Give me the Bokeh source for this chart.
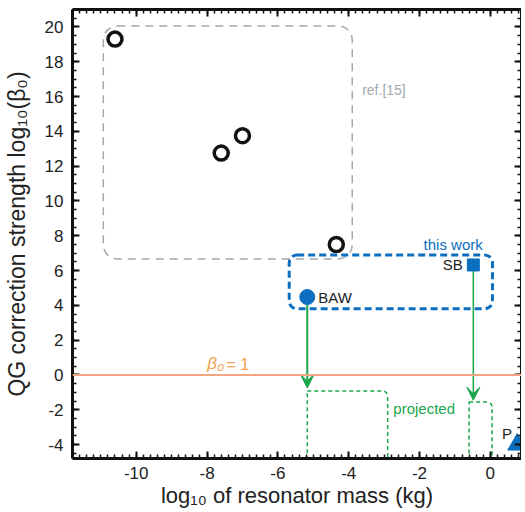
from bokeh.plotting import figure
from bokeh.models import (LinearAxis, Range1d, SingleIntervalTicker, Arrow, VeeHead,
                          Label, Span, CustomJSTickFormatter)
from bokeh.embed import file_html
from bokeh.resources import INLINE

# ---------------- data ----------------
ref_x = [-10.6, -7.6, -7.0, -4.35]
ref_y = [19.3, 12.75, 13.75, 7.5]
baw_x = [-5.17]
baw_y = [4.48]
sb_x = [-0.48]
sb_y = [6.32]
p_x = [0.76]
p_y = [-4.0]
baw_proj_y = -0.75
sb_proj_y = -1.45
ref_box = [-10.93, -3.9, 6.67, 20.05]     # left, right, bottom, top
work_box = [-5.68, 0.06, 3.8, 6.9]
proj_left = [-5.17, -0.6]
proj_right = [-2.9, 0.05]
proj_top = [-0.92, -1.55]
proj_bottom = [-6.0, -6.0]
beta_line = 0.0
x_lim = (-11.8, 0.88)
y_lim = (-4.8, 21.0)

FONT = "Liberation Sans"
BLUE = "#0b6ebf"
GREEN = "#1aa64a"
GRAY = "#a3a8ad"
ORANGE = "#f0a583"
DARK = "#222222"

p = figure(frame_width=449, frame_height=449, output_backend="svg", toolbar_location=None,
           x_range=Range1d(*x_lim), y_range=Range1d(*y_lim),
           min_border_left=65, min_border_top=9, min_border_right=0, min_border_bottom=0)
p.grid.visible = False
p.outline_line_color = None
p.background_fill_color = "white"
p.border_fill_color = "white"

xt = SingleIntervalTicker(interval=2, num_minor_ticks=10)
yt = SingleIntervalTicker(interval=2, num_minor_ticks=4)
hyphen_fmt = "return String(Math.round(tick));"

def style_axis(ax):
    ax.axis_line_width = 3
    ax.axis_line_color = "#111111"
    ax.major_tick_in = 7
    ax.major_tick_out = 0
    ax.minor_tick_in = 4
    ax.minor_tick_out = 0
    ax.major_tick_line_width = 2
    ax.minor_tick_line_width = 1.5
    ax.major_tick_line_color = "#111111"
    ax.minor_tick_line_color = "#111111"
    ax.major_label_text_font = FONT
    ax.major_label_text_font_size = "17px"
    ax.major_label_text_color = DARK
    ax.axis_label_text_font = FONT
    ax.axis_label_text_font_size = "23px"
    ax.axis_label_text_font_style = "normal"
    ax.axis_label_text_color = DARK

p.xaxis.ticker = xt
p.yaxis.ticker = yt
p.xaxis.formatter = CustomJSTickFormatter(code=hyphen_fmt)
p.yaxis.formatter = CustomJSTickFormatter(code=hyphen_fmt)
style_axis(p.xaxis[0])
style_axis(p.yaxis[0])
p.xaxis.axis_label = "log\u2081\u2080 of resonator mass (kg)"
p.yaxis.axis_label = "QG correction strength log\u2081\u2080(\u03b2\u2080)"
p.xaxis.axis_label_text_font_size = "22px"
p.xaxis.major_label_standoff = 8
p.xaxis.axis_label_standoff = 1
p.yaxis.major_label_standoff = 9
p.yaxis.axis_label_standoff = 12

for loc, tk in (("above", xt), ("right", yt)):
    ax = LinearAxis(ticker=tk, formatter=CustomJSTickFormatter(code="return ''"))
    style_axis(ax)
    ax.major_label_text_font_size = "0px"
    ax.major_label_standoff = 0
    p.add_layout(ax, loc)

# beta0 = 1 line
p.add_layout(Span(location=beta_line, dimension="width", line_color=ORANGE, line_width=2))

# boxes
p.quad(left=[ref_box[0]], right=[ref_box[1]], bottom=[ref_box[2]], top=[ref_box[3]],
       fill_color=None, line_color=GRAY, line_width=1.5, line_dash="8 6", border_radius=14)
p.quad(left=[work_box[0]], right=[work_box[1]], bottom=[work_box[2]], top=[work_box[3]],
       fill_color=None, line_color=BLUE, line_width=3, line_dash="7 4", border_radius=8)
p.quad(left=proj_left, right=proj_right, bottom=proj_bottom, top=proj_top,
       fill_color=None, line_color=GREEN, line_width=1.5, line_dash="4 3",
       border_radius=dict(top_left=0, top_right=5, bottom_right=0, bottom_left=0))

# arrows
p.add_layout(Arrow(x_start=baw_x[0], y_start=baw_y[0], x_end=baw_x[0], y_end=baw_proj_y,
                   line_color=GREEN, line_width=2, level="underlay",
                   end=VeeHead(size=14, fill_color=GREEN, line_color=GREEN, line_width=1)))
p.add_layout(Arrow(x_start=sb_x[0], y_start=sb_y[0], x_end=sb_x[0], y_end=sb_proj_y,
                   line_color=GREEN, line_width=1.5, level="underlay",
                   end=VeeHead(size=13, fill_color=GREEN, line_color=GREEN, line_width=1)))

# markers
p.scatter(ref_x, ref_y, marker="circle", size=14, fill_color="white",
          line_color="#111111", line_width=3.5)
p.scatter(baw_x, baw_y, marker="circle", size=15, fill_color=BLUE, line_color=BLUE)
p.scatter(sb_x, sb_y, marker="square", size=12, fill_color=BLUE, line_color=BLUE)
p.scatter(p_x, p_y, marker="triangle", size=19, fill_color=BLUE, line_color=BLUE)

# labels
def lab(x, y, t, color, size="15px", align="left", base="middle", style="normal"):
    p.add_layout(Label(x=x, y=y, text=t, text_color=color, text_font=FONT,
                       text_font_size=size, text_align=align, text_baseline=base,
                       text_font_style=style))

lab(-3.62, 16.4, "ref.[15]", GRAY, "14px")
lab(-1.05, 7.5, "this work", BLUE, "15px", align="center")
lab(-0.78, 6.32, "SB", DARK, "15px", align="right")
lab(-4.86, 4.45, "BAW", DARK, "15px")
lab(-2.74, -1.9, "projected", GREEN, "15px")
lab(0.47, -3.35, "P", DARK, "15px", align="center")
lab(-7.52, 0.12, "\u03b2\u2080", "#f5a04e", "17px", align="right", base="bottom", style="italic")
lab(-7.45, 0.12, "= 1", "#f5a04e", "16px", align="left", base="bottom")

open("out.html", "w").write(file_html(p, INLINE))
